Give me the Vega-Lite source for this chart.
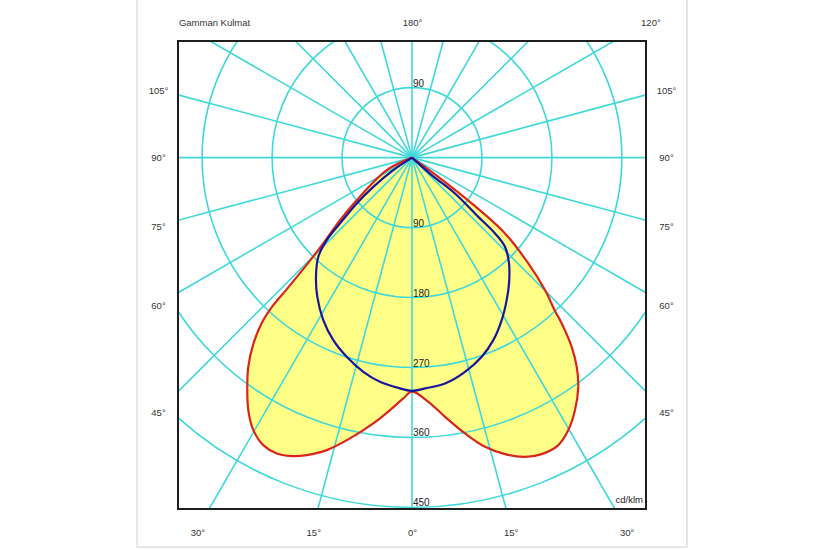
{
  "$schema": "https://vega.github.io/schema/vega-lite/v6.json",
  "width": 468,
  "height": 468,
  "autosize": {"type": "none"},
  "padding": {"left": 178, "top": 41, "right": 179, "bottom": 41},
  "background": "white",
  "config": {
    "view": {"stroke": null},
    "axis": {
      "ticks": false, "tickSize": 0, "domain": false, "grid": false,
      "labelFont": "Liberation Sans", "labelFontSize": 9.5, "labelColor": "#333333",
      "labelFlush": false, "labelOverlap": false, "labelBound": false, "title": null
    }
  },
  "datasets": {
    "red": [
      {"i": 0, "x": 0, "y": 0},
      {"i": 1, "x": -32.5, "y": -16.1},
      {"i": 2, "x": -71.1, "y": -54.7},
      {"i": 3, "x": -92.6, "y": -80.4},
      {"i": 4, "x": -114.1, "y": -110.4},
      {"i": 5, "x": -137.6, "y": -140.5},
      {"i": 6, "x": -162.1, "y": -170.4},
      {"i": 7, "x": -179.4, "y": -191.0},
      {"i": 8, "x": -193.6, "y": -213.3},
      {"i": 9, "x": -203.9, "y": -239.0},
      {"i": 10, "x": -210.6, "y": -269.1},
      {"i": 11, "x": -211.9, "y": -294.8},
      {"i": 12, "x": -210.6, "y": -324.8},
      {"i": 13, "x": -204.1, "y": -350.5},
      {"i": 14, "x": -191.3, "y": -369.8},
      {"i": 15, "x": -174.0, "y": -380.5},
      {"i": 16, "x": -152.7, "y": -384.0},
      {"i": 17, "x": -135.5, "y": -382.7},
      {"i": 18, "x": -109.7, "y": -376.3},
      {"i": 19, "x": -79.8, "y": -361.2},
      {"i": 20, "x": -49.8, "y": -341.9},
      {"i": 21, "x": -28.3, "y": -324.8},
      {"i": 22, "x": -11.2, "y": -309.8},
      {"i": 23, "x": 0, "y": -301.0},
      {"i": 24, "x": 21.0, "y": -314.1},
      {"i": 25, "x": 42.5, "y": -333.4},
      {"i": 26, "x": 68.2, "y": -354.8},
      {"i": 27, "x": 93.9, "y": -372.0},
      {"i": 28, "x": 119.6, "y": -381.4},
      {"i": 29, "x": 145.4, "y": -384.9},
      {"i": 30, "x": 166.8, "y": -381.4},
      {"i": 31, "x": 188.2, "y": -369.8},
      {"i": 32, "x": 201.1, "y": -350.5},
      {"i": 33, "x": 209.7, "y": -324.8},
      {"i": 34, "x": 213.9, "y": -294.8},
      {"i": 35, "x": 211.9, "y": -269.1},
      {"i": 36, "x": 205.4, "y": -243.4},
      {"i": 37, "x": 192.6, "y": -213.3},
      {"i": 38, "x": 182.7, "y": -194.9},
      {"i": 39, "x": 177.5, "y": -183.3},
      {"i": 40, "x": 171.1, "y": -170.4},
      {"i": 41, "x": 149.6, "y": -136.1},
      {"i": 42, "x": 119.6, "y": -97.5},
      {"i": 43, "x": 76.8, "y": -58.9},
      {"i": 44, "x": 33.8, "y": -24.7},
      {"i": 45, "x": 0, "y": 0}
    ],
    "blue": [
      {"i": 0, "x": 0, "y": 0},
      {"i": 1, "x": -24.1, "y": -16.1},
      {"i": 2, "x": -49.8, "y": -37.6},
      {"i": 3, "x": -71.1, "y": -58.9},
      {"i": 4, "x": -92.6, "y": -84.6},
      {"i": 5, "x": -109.7, "y": -106.1},
      {"i": 6, "x": -120.5, "y": -127.6},
      {"i": 7, "x": -123.5, "y": -153.3},
      {"i": 8, "x": -121.8, "y": -179.1},
      {"i": 9, "x": -114.1, "y": -209.0},
      {"i": 10, "x": -101.2, "y": -234.8},
      {"i": 11, "x": -84.0, "y": -256.2},
      {"i": 12, "x": -62.6, "y": -275.5},
      {"i": 13, "x": -41.2, "y": -288.4},
      {"i": 14, "x": -19.7, "y": -295.6},
      {"i": 15, "x": 0, "y": -300.0},
      {"i": 16, "x": 16.7, "y": -296.9},
      {"i": 17, "x": 42.5, "y": -290.5},
      {"i": 18, "x": 68.2, "y": -275.5},
      {"i": 19, "x": 89.7, "y": -256.2},
      {"i": 20, "x": 104.6, "y": -234.8},
      {"i": 21, "x": 115.4, "y": -209.0},
      {"i": 22, "x": 121.8, "y": -183.3},
      {"i": 23, "x": 124.8, "y": -161.8},
      {"i": 24, "x": 124.8, "y": -136.1},
      {"i": 25, "x": 119.6, "y": -114.7},
      {"i": 26, "x": 106.8, "y": -97.5},
      {"i": 27, "x": 85.3, "y": -76.2},
      {"i": 28, "x": 55.3, "y": -46.1},
      {"i": 29, "x": 25.3, "y": -22.5},
      {"i": 30, "x": 0, "y": 0}
    ],
    "rings": [{"r": 90}, {"r": 180}, {"r": 270}, {"r": 360}, {"r": 450}],
    "spokes": [
      {"a": 0, "ex": 0, "ey": -452},
      {"a": 15, "ex": 121.1, "ey": -452}, {"a": -15, "ex": -121.1, "ey": -452},
      {"a": 30, "ex": 261.0, "ey": -452}, {"a": -30, "ex": -261.0, "ey": -452},
      {"a": 45, "ex": 301, "ey": -301}, {"a": -45, "ex": -301, "ey": -301},
      {"a": 60, "ex": 301, "ey": -173.8}, {"a": -60, "ex": -301, "ey": -173.8},
      {"a": 75, "ex": 301, "ey": -80.7}, {"a": -75, "ex": -301, "ey": -80.7},
      {"a": 90, "ex": 301, "ey": 0}, {"a": -90, "ex": -301, "ey": 0},
      {"a": 105, "ex": 301, "ey": 80.7}, {"a": -105, "ex": -301, "ey": 80.7},
      {"a": 120, "ex": 259.8, "ey": 150}, {"a": -120, "ex": -259.8, "ey": 150},
      {"a": 135, "ex": 150, "ey": 150}, {"a": -135, "ex": -150, "ey": 150},
      {"a": 150, "ex": 86.6, "ey": 150}, {"a": -150, "ex": -86.6, "ey": 150},
      {"a": 165, "ex": 40.2, "ey": 150}, {"a": -165, "ex": -40.2, "ey": 150},
      {"a": 180, "ex": 0, "ey": 150}
    ],
    "ringLabels": [
      {"t": "90", "y": 90},
      {"t": "90", "y": -90},
      {"t": "180", "y": -180},
      {"t": "270", "y": -270},
      {"t": "360", "y": -360},
      {"t": "450", "y": -450}
    ],
    "one": [{}]
  },
  "layer": [
    {
      "data": {"name": "red"},
      "mark": {"type": "line", "fill": "#FFFF88", "strokeOpacity": 0, "interpolate": "catmull-rom"},
      "encoding": {
        "x": {"field": "x", "type": "quantitative", "scale": {"domain": [-301, 301], "nice": false, "zero": false}, "axis": null},
        "y": {"field": "y", "type": "quantitative", "scale": {"domain": [-452, 150], "nice": false, "zero": false}, "axis": null},
        "order": {"field": "i", "type": "quantitative"}
      }
    },
    {
      "data": {"name": "rings"},
      "mark": {"type": "arc", "theta": 0, "theta2": 6.2832, "filled": false, "stroke": "#3FD8DA", "strokeWidth": 1.6, "clip": true},
      "encoding": {
        "x": {"datum": 0, "type": "quantitative", "axis": null},
        "y": {"datum": 0, "type": "quantitative", "axis": null},
        "radius": {"field": "r", "type": "quantitative", "stack": null, "scale": {"type": "linear", "domain": [0, 450], "range": [0, 349.83], "zero": true}}
      }
    },
    {
      "data": {"name": "spokes"},
      "mark": {"type": "rule", "stroke": "#3FD8DA", "strokeWidth": 1.6, "clip": true},
      "encoding": {
        "x": {"field": "ex", "type": "quantitative", "axis": null},
        "y": {"field": "ey", "type": "quantitative", "axis": null},
        "x2": {"datum": 0},
        "y2": {"datum": 0}
      }
    },
    {
      "data": {"name": "red"},
      "mark": {"type": "line", "stroke": "#D8261C", "strokeWidth": 2.2, "interpolate": "catmull-rom"},
      "encoding": {
        "x": {"field": "x", "type": "quantitative", "axis": null},
        "y": {"field": "y", "type": "quantitative", "axis": null},
        "order": {"field": "i", "type": "quantitative"}
      }
    },
    {
      "data": {"name": "blue"},
      "mark": {"type": "line", "stroke": "#16169A", "strokeWidth": 2.2, "interpolate": "catmull-rom"},
      "encoding": {
        "x": {"field": "x", "type": "quantitative", "axis": null},
        "y": {"field": "y", "type": "quantitative", "axis": null},
        "order": {"field": "i", "type": "quantitative"}
      }
    },
    {
      "data": {"name": "ringLabels"},
      "mark": {"type": "text", "align": "left", "baseline": "alphabetic", "dx": 1, "dy": -1, "font": "Liberation Sans", "fontSize": 10, "fill": "#222222"},
      "encoding": {
        "x": {"datum": 0, "type": "quantitative", "axis": null},
        "y": {"field": "y", "type": "quantitative", "axis": null},
        "text": {"field": "t"}
      }
    },
    {
      "data": {"name": "one"},
      "mark": {"type": "text", "text": "cd/klm", "align": "right", "baseline": "alphabetic", "dx": -3, "dy": -6, "font": "Liberation Sans", "fontSize": 9.5, "fill": "#222222"},
      "encoding": {
        "x": {"datum": 301, "type": "quantitative", "axis": null},
        "y": {"datum": -452, "type": "quantitative", "axis": null}
      }
    },
    {
      "data": {"name": "one"},
      "mark": {"type": "rect", "fill": null, "fillOpacity": 0, "stroke": "#1E1E1E", "strokeWidth": 2},
      "encoding": {
        "x": {"datum": -301, "type": "quantitative", "axis": {
          "orient": "bottom", "values": [-276, -127, 0, 127, 276],
          "labelExpr": "datum.value == 0 ? '0°' : (abs(datum.value) < 200 ? '15°' : '30°')",
          "labelBaseline": "middle", "labelPadding": 23
        }},
        "x2": {"datum": 301},
        "y": {"datum": -452, "type": "quantitative", "axis": {
          "orient": "left", "values": [86.8, 0, -89, -189.7, -328.3],
          "labelExpr": "datum.value > 50 ? '105°' : (datum.value > -50 ? '90°' : (datum.value > -150 ? '75°' : (datum.value > -250 ? '60°' : '45°')))",
          "labelAlign": "center", "labelBaseline": "middle", "labelPadding": 20
        }},
        "y2": {"datum": 150}
      }
    },
    {
      "data": {"name": "one"},
      "mark": {"type": "rect", "fill": null, "fillOpacity": 0, "stroke": "#CFCFCF", "strokeWidth": 1, "clip": false},
      "encoding": {
        "x": {"datum": -353.7, "type": "quantitative", "axis": {
          "orient": "top", "values": [-300.5, 0, 294],
          "labelExpr": "datum.value < -200 ? 'Gamman Kulmat' : (datum.value > 200 ? '120°' : '180°')",
          "labelAlign": {"condition": {"test": "abs(datum.value) > 200", "value": "left"}, "value": "center"},
          "labelBaseline": "middle", "labelPadding": 19
        }},
        "x2": {"datum": 353.7},
        "y": {"datum": -501, "type": "quantitative", "axis": {
          "orient": "right", "values": [86.8, 0, -89, -189.7, -328.3],
          "labelExpr": "datum.value > 50 ? '105°' : (datum.value > -50 ? '90°' : (datum.value > -150 ? '75°' : (datum.value > -250 ? '60°' : '45°')))",
          "labelAlign": "center", "labelBaseline": "middle", "labelPadding": 20
        }},
        "y2": {"datum": 260}
      }
    }
  ],
  "resolve": {"axis": {"x": "independent", "y": "independent"}}
}
